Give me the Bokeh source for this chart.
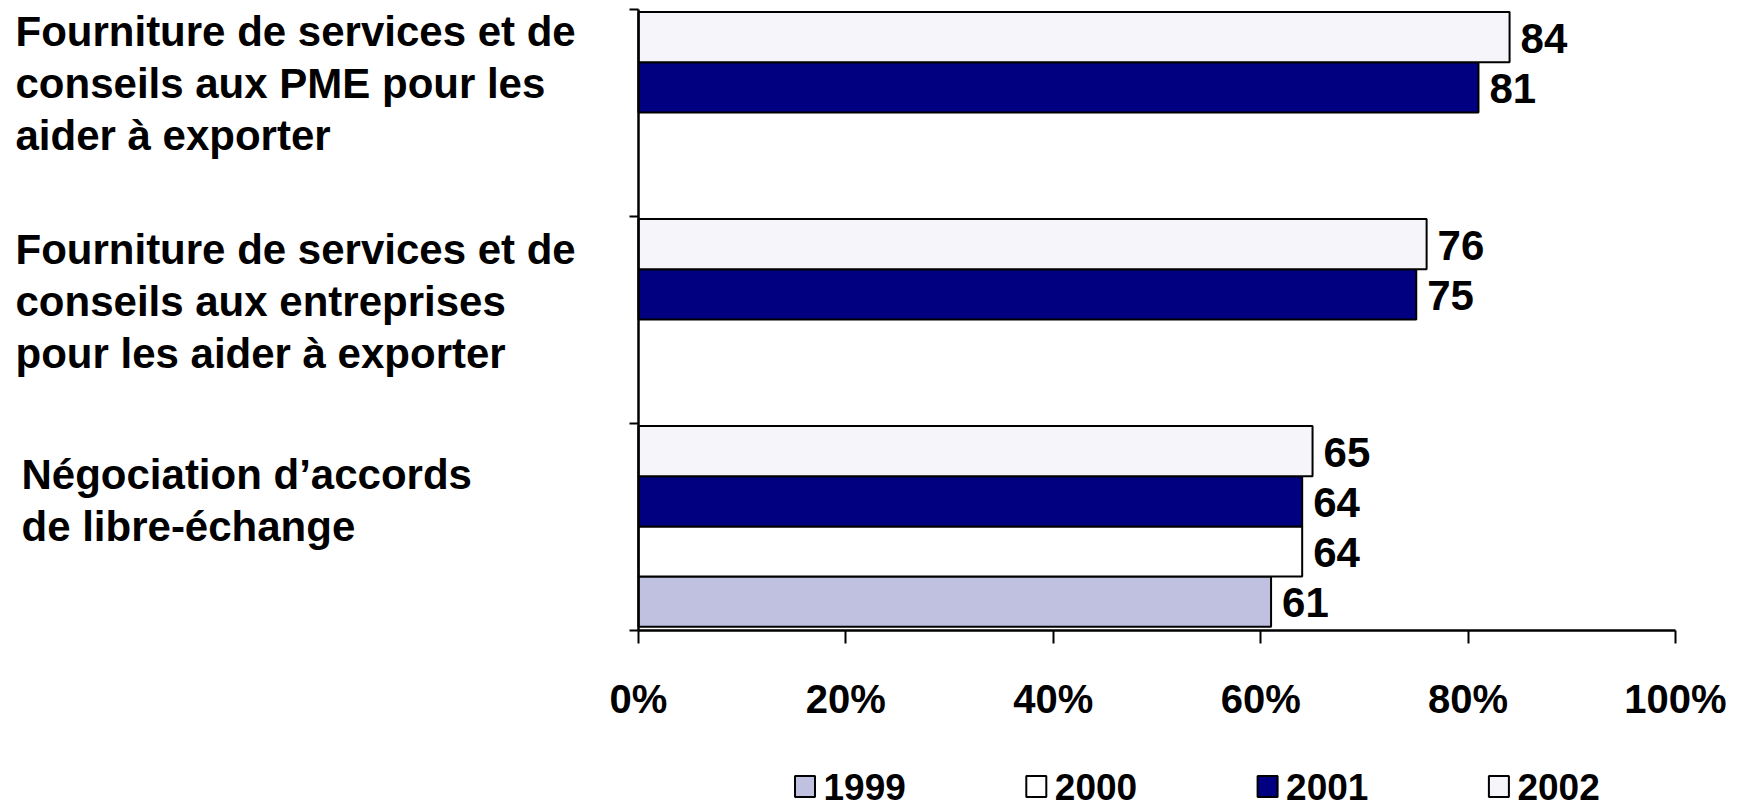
from bokeh.plotting import figure
from bokeh.models import Range1d, FixedTicker, ColumnDataSource
from bokeh.embed import file_html
from bokeh.resources import INLINE
from bokeh.core.properties import value

# ---------------- data ----------------
categories = [
    "Négociation d’accords\nde libre-échange",
    "Fourniture de services et de\nconseils aux entreprises\npour les aider à exporter",
    "Fourniture de services et de\nconseils aux PME pour les\naider à exporter",
]
years = ["1999", "2000", "2001", "2002"]
v1999 = [61, None, None]
v2000 = [64, None, None]
v2001 = [64, 75, 81]
v2002 = [65, 76, 84]
series = [v1999, v2000, v2001, v2002]
colors = ["#C0C1E0", "#FFFFFF", "#000080", "#F5F5FA"]
x_ticks = [0, 20, 40, 60, 80, 100]
x_tick_labels = ["0%", "20%", "40%", "60%", "80%", "100%"]

# ---------------- layout constants (pixels) ----------------
FONT = "Liberation Sans"
W, H = 1752, 809
X0_PX, X100_PX = 638, 1675     # 0% and 100%
YTOP_PX, YBOT_PX = 9, 630      # top of categories, x axis
ppx = (X100_PX - X0_PX) / 100.0
ppy = (YBOT_PX - YTOP_PX) / 3.0


def px(x):
    return (x - X0_PX) / ppx


def py(y):
    return 3 - (y - YTOP_PX) / ppy


p = figure(width=W, height=H,
           x_range=Range1d(px(0), px(W)), y_range=Range1d(py(H), py(0)),
           toolbar_location=None, output_backend="svg")
p.min_border_left = p.min_border_right = p.min_border_top = p.min_border_bottom = 0
p.outline_line_color = None
p.xgrid.visible = False
p.ygrid.visible = False
p.background_fill_color = "white"
p.border_fill_color = "white"

# ---------------- bars + value labels ----------------
slot = 0.2425
gap_bottom = 0.018
for k, (vals, col) in enumerate(zip(series, colors)):
    ys, xs, labs = [], [], []
    for ci, v in enumerate(vals):
        if v is None:
            continue
        ys.append(ci + gap_bottom + slot / 2 + k * slot)
        xs.append(v)
        labs.append(str(v))
    src = ColumnDataSource(dict(y=ys, right=xs, lab=labs))
    p.hbar(y="y", left=0, right="right", height=slot, source=src,
           fill_color=col, line_color="black", line_width=2)
    p.text(x="right", y="y", text="lab", source=src, x_offset=11, y_offset=1,
           text_baseline="middle", text_align="left",
           text_font=value(FONT), text_font_style="bold",
           text_font_size="42px", text_color="black")

# ---------------- axes (kept at the data origin) ----------------
xa = p.xaxis[0]
xa.fixed_location = 0
xa.bounds = (0, 100)
xa.ticker = FixedTicker(ticks=x_ticks)
xa.major_label_overrides = {t: l for t, l in zip(x_ticks, x_tick_labels)}
xa.major_label_text_font = FONT
xa.major_label_text_font_style = "bold"
xa.major_label_text_font_size = "40px"
xa.major_label_text_color = "black"
xa.major_label_standoff = 33
xa.major_tick_out = 13
xa.major_tick_in = 0
xa.minor_tick_line_color = None
xa.axis_line_width = 2.5
xa.major_tick_line_width = 2
xa.axis_line_color = "black"
xa.major_tick_line_color = "black"

ya = p.yaxis[0]
ya.fixed_location = 0
ya.bounds = (0, 3)
ya.ticker = FixedTicker(ticks=[0, 1, 2, 3])
ya.major_label_overrides = {0: "", 1: "", 2: "", 3: ""}
ya.major_tick_out = 9
ya.major_tick_in = 0
ya.minor_tick_line_color = None
ya.axis_line_width = 2.5
ya.major_tick_line_width = 2
ya.axis_line_color = "black"
ya.major_tick_line_color = "black"

# ---------------- category labels (left aligned, one row per line) ----------------
label_anchor = [(21, 474), (15, 249), (15, 31)]   # left x, first baseline (px)
LINE_STEP = 52
lx, ly, lt = [], [], []
for cat, (ax, ab) in zip(categories, label_anchor):
    for i, line in enumerate(cat.split("\n")):
        lx.append(px(ax))
        ly.append(py(ab + i * LINE_STEP))
        lt.append(line)
p.text(x="x", y="y", text="t", source=ColumnDataSource(dict(x=lx, y=ly, t=lt)),
       text_align="left", text_baseline="alphabetic",
       text_font=value(FONT), text_font_style="bold", text_font_size="42px",
       text_color="black")

# ---------------- legend ----------------
sq_left = [794 + 231.3 * i for i in range(len(years))]
leg_y = py(786)
lsrc = ColumnDataSource(dict(
    x=[px(s + 10.5) for s in sq_left], y=[leg_y] * len(years), c=colors, t=years,
    tx=[px(s + 29) for s in sq_left]))
p.rect(x="x", y="y", width=20, height=21, width_units="screen", height_units="screen",
       fill_color="c", line_color="black", line_width=2, source=lsrc)
p.text(x="tx", y="y", text="t", source=lsrc, text_baseline="middle",
       text_align="left", text_font=value(FONT), text_font_style="bold",
       text_font_size="37px", text_color="black")

open("out.html", "w").write(file_html(p, INLINE))
